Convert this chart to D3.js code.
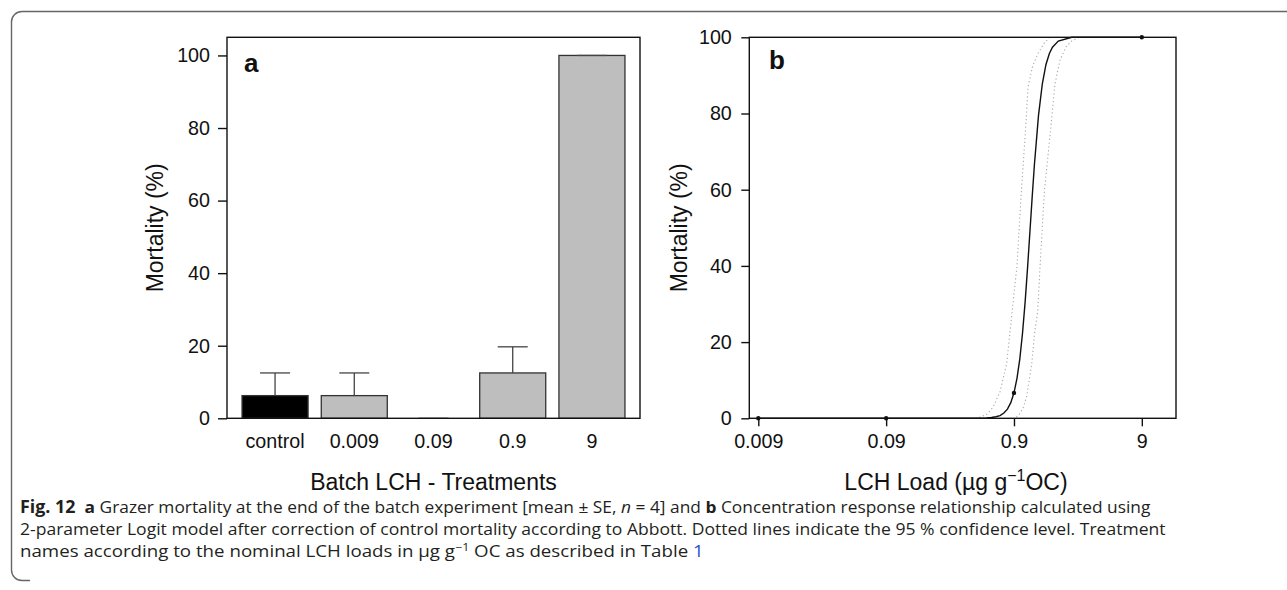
<!DOCTYPE html>
<html>
<head>
<meta charset="utf-8">
<script src="https://cdn.jsdelivr.net/npm/d3@7"></script>
<style>
  html, body { margin: 0; padding: 0; background: #fff; }
  svg { display: block; }
</style>
</head>
<body>
<svg id="fig" width="1287" height="590"></svg>
<script>
// ---- Panel a: batch experiment, mean mortality ± SE per treatment ----
const treatments = ["control", "0.009", "0.09", "0.9", "9"];
const meanMortality = [6.25, 6.25, 0, 12.5, 100];
const seMortality = [6.25, 6.25, 0, 7.2, 0];
const mortalityTicks = [0, 20, 40, 60, 80, 100];

// ---- Panel b: concentration response (Abbott corrected) ----
const loadTicks = [0.009, 0.09, 0.9, 9];
const loadTickLabels = ["0.009", "0.09", "0.9", "9"];
const observedLoad = [0.009, 0.09, 0.9, 9];
const observedMortality = [0, 0, 6.67, 100];

// fitted 2-parameter logit curve
const fitLoad = [0.009, 0.3, 0.5, 0.55, 0.6, 0.65, 0.7, 0.75, 0.8, 0.85, 0.9, 0.95, 1.0, 1.05,
                 1.1, 1.15, 1.2, 1.25, 1.3, 1.4, 1.5, 1.6, 1.7, 1.8, 2.0, 2.55, 9];
const fitMortality = [0, 0, 0.04, 0.08, 0.2, 0.4, 0.7, 1.4, 2.4, 4.1, 6.7, 10.5, 15.6, 22.4,
                      30.5, 39.6, 49.1, 58.2, 66.5, 79.5, 87.8, 92.8, 95.7, 97.4, 99.0, 100, 100];

// 95 % confidence limits
const ciLowLoad = [0.45, 0.5, 0.56, 0.62, 0.7, 0.79, 0.84, 0.87, 0.95, 1.03, 1.1, 1.16, 1.26, 1.39, 1.55, 1.72];
const ciLowMortality = [0, 0.4, 1.2, 3, 7, 14.4, 23, 28, 40, 60, 74, 87, 92.5, 95.8, 98.5, 100];
const ciHighLoad = [0.94, 1.0, 1.07, 1.13, 1.24, 1.31, 1.38, 1.44, 1.56, 1.72, 1.88, 2.06, 2.3, 2.54, 2.9];
const ciHighMortality = [0.3, 1.2, 3, 5.7, 14.4, 23, 28, 40, 60, 74, 87.6, 94, 97.5, 99, 100];

const svg = d3.select("#fig");
const axisFont = "'Liberation Sans', Arial, sans-serif";
const ink = "#111";

// outer figure frame (rounded top-left / bottom-left)
svg.append("path")
  .attr("d", "M1287,11.5 H22 A10.5,10.5 0 0 0 11.5,22 V570 A10.5,10.5 0 0 0 22,580.5 H30")
  .attr("fill", "none").attr("stroke", "#666").attr("stroke-width", 1.4);

// ================= Panel a =================
const boxA = {l: 227, r: 640, t: 37.3, b: 418.3};
const xA = d3.scaleBand().domain(treatments).range([boxA.l, boxA.r])
  .paddingInner(0.2 / 1.2).paddingOuter(0.19);
const yA = d3.scaleLinear().domain([0, 105]).range([boxA.b, boxA.t]);
const gA = svg.append("g");

// bars
gA.selectAll("rect.bar").data(treatments).join("rect")
  .attr("class", "bar")
  .attr("x", d => xA(d))
  .attr("width", xA.bandwidth())
  .attr("y", (d, i) => yA(meanMortality[i]))
  .attr("height", (d, i) => yA(0) - yA(meanMortality[i]))
  .attr("fill", d => d === "control" ? "#000" : "#bebebe")
  .attr("stroke", "#333").attr("stroke-width", 1.3);

// upper error bars
const capHalf = 15;
treatments.forEach((t, i) => {
  const cx = xA(t) + xA.bandwidth() / 2;
  const y0 = yA(meanMortality[i]);
  const y1 = yA(meanMortality[i] + seMortality[i]);
  if (seMortality[i] > 0) {
    gA.append("line").attr("x1", cx).attr("x2", cx).attr("y1", y0).attr("y2", y1)
      .attr("stroke", "#444").attr("stroke-width", 1.3);
  }
  gA.append("line").attr("x1", cx - capHalf).attr("x2", cx + capHalf).attr("y1", y1).attr("y2", y1)
    .attr("stroke", "#444").attr("stroke-width", 1.3);
});

// box
gA.append("rect").attr("x", boxA.l).attr("y", boxA.t)
  .attr("width", boxA.r - boxA.l).attr("height", boxA.b - boxA.t)
  .attr("fill", "none").attr("stroke", ink).attr("stroke-width", 1.4);

// y axis
const yAxisA = gA.append("g").attr("transform", `translate(${boxA.l},0)`)
  .call(d3.axisLeft(yA).tickValues(mortalityTicks).tickSize(9).tickPadding(8));
yAxisA.select(".domain").remove();
yAxisA.selectAll("line").attr("stroke", ink).attr("stroke-width", 1.4);
yAxisA.selectAll("text").attr("font-family", axisFont).attr("font-size", 19.7).attr("fill", ink);

// x labels
const xAxisA = gA.append("g").attr("transform", `translate(0,${boxA.b})`)
  .call(d3.axisBottom(xA).tickSize(0));
xAxisA.select(".domain").remove();
xAxisA.selectAll("text").attr("font-family", axisFont).attr("font-size", 19.7)
  .attr("fill", ink).attr("y", 30).attr("dy", 0);

// titles
gA.append("text").attr("x", (boxA.l + boxA.r) / 2).attr("y", 490)
  .attr("text-anchor", "middle").attr("font-family", axisFont).attr("font-size", 23)
  .attr("fill", ink).text("Batch LCH - Treatments");
gA.append("text").attr("transform", `translate(163,${(boxA.t + boxA.b) / 2}) rotate(-90)`)
  .attr("text-anchor", "middle").attr("font-family", axisFont).attr("font-size", 23)
  .attr("fill", ink).text("Mortality (%)");
gA.append("text").attr("x", 244).attr("y", 71.5).attr("font-family", axisFont)
  .attr("font-weight", "bold").attr("font-size", 26).attr("fill", ink).text("a");

// ================= Panel b =================
const boxB = {l: 749.3, r: 1176, t: 37.3, b: 418.3};
const xB = d3.scaleLog().domain([0.007653, 16.66]).range([boxB.l, boxB.r]);
const yB = d3.scaleLinear().domain([0, 100]).range([boxB.b, boxB.t]);
const gB = svg.append("g");

const lineB = d3.line().x(d => xB(d[0])).y(d => yB(d[1]));

// confidence limits
[[ciLowLoad, ciLowMortality], [ciHighLoad, ciHighMortality]].forEach(([xs, ys]) => {
  gB.append("path").datum(d3.zip(xs, ys)).attr("d", lineB)
    .attr("fill", "none").attr("stroke", "#a8a8a8").attr("stroke-width", 1.1)
    .attr("stroke-dasharray", "1.2 2.6");
});

// fitted curve
gB.append("path").datum(d3.zip(fitLoad, fitMortality)).attr("d", lineB)
  .attr("fill", "none").attr("stroke", ink).attr("stroke-width", 1.4);

// box
gB.append("rect").attr("x", boxB.l).attr("y", boxB.t)
  .attr("width", boxB.r - boxB.l).attr("height", boxB.b - boxB.t)
  .attr("fill", "none").attr("stroke", ink).attr("stroke-width", 1.4);

// observed points
gB.selectAll("circle").data(d3.zip(observedLoad, observedMortality)).join("circle")
  .attr("cx", d => xB(d[0])).attr("cy", d => yB(d[1])).attr("r", 2.2).attr("fill", ink);

// axes
const yAxisB = gB.append("g").attr("transform", `translate(${boxB.l},0)`)
  .call(d3.axisLeft(yB).tickValues(mortalityTicks).tickSize(8).tickPadding(9.5));
yAxisB.select(".domain").remove();
yAxisB.selectAll("line").attr("stroke", ink).attr("stroke-width", 1.4);
yAxisB.selectAll("text").attr("font-family", axisFont).attr("font-size", 19.7).attr("fill", ink);

const xAxisB = gB.append("g").attr("transform", `translate(0,${boxB.b})`)
  .call(d3.axisBottom(xB).tickValues(loadTicks).tickFormat((d, i) => loadTickLabels[i]).tickSize(8));
xAxisB.select(".domain").remove();
xAxisB.selectAll("line").attr("stroke", ink).attr("stroke-width", 1.4);
xAxisB.selectAll("text").attr("font-family", axisFont).attr("font-size", 19.7)
  .attr("fill", ink).attr("y", 30).attr("dy", 0);

// titles
const titleB = gB.append("text").attr("x", 956).attr("y", 490)
  .attr("text-anchor", "middle").attr("font-family", axisFont).attr("font-size", 23).attr("fill", ink);
titleB.append("tspan").text("LCH Load (µg g");
titleB.append("tspan").attr("font-size", 16).attr("dy", -9).text("−1");
titleB.append("tspan").attr("dy", 9).text("OC)");
gB.append("text").attr("transform", `translate(687,${(boxB.t + boxB.b) / 2}) rotate(-90)`)
  .attr("text-anchor", "middle").attr("font-family", axisFont).attr("font-size", 23)
  .attr("fill", ink).text("Mortality (%)");
gB.append("text").attr("x", 769).attr("y", 68.5).attr("font-family", axisFont)
  .attr("font-weight", "bold").attr("font-size", 26).attr("fill", ink).text("b");

// ================= Caption =================
const capFont = "'Open Sans', 'Noto Sans', sans-serif";
const capColor = "#231f20";
const captionLines = [
  [{t: "Fig. 12", b: true, big: true}, {t: "  "}, {t: "a", b: true},
   {t: " Grazer mortality at the end of the batch experiment [mean ± SE, "}, {t: "n", i: true},
   {t: " = 4] and "}, {t: "b", b: true},
   {t: " Concentration response relationship calculated using"}],
  [{t: "2-parameter Logit model after correction of control mortality according to Abbott. Dotted lines indicate the 95 % confidence level. Treatment"}],
  [{t: "names according to the nominal LCH loads in µg g"}, {t: "−1", sup: true},
   {t: " OC as described in Table "}, {t: "1", link: true}]
];
const capBaselines = [513, 535, 557];
const capRightEdges = [1151, 1167, 704];
captionLines.forEach((parts, li) => {
  const g = svg.append("g");
  const txt = g.append("text").attr("x", 0).attr("y", 0)
    .attr("font-family", capFont).attr("font-size", 16.5).attr("fill", capColor)
    .style("white-space", "pre");
  parts.forEach((p, k) => {
    const s = txt.append("tspan").text(p.t);
    if (p.b) s.attr("font-weight", "bold");
    if (p.big) s.attr("font-size", 17);
    if (p.i) s.attr("font-style", "italic");
    if (p.link) s.attr("fill", "#2a4fd0");
    if (p.sup) s.attr("font-size", 11).attr("dy", -6.5);
    else if (k > 0 && parts[k - 1].sup) s.attr("dy", 6.5);
  });
  // fit each caption line to its measured column extent
  const w = txt.node().getComputedTextLength();
  const sx = (capRightEdges[li] - 20) / w;
  g.attr("transform", `translate(20,${capBaselines[li]}) scale(${sx},1)`);
});
</script>
</body>
</html>
